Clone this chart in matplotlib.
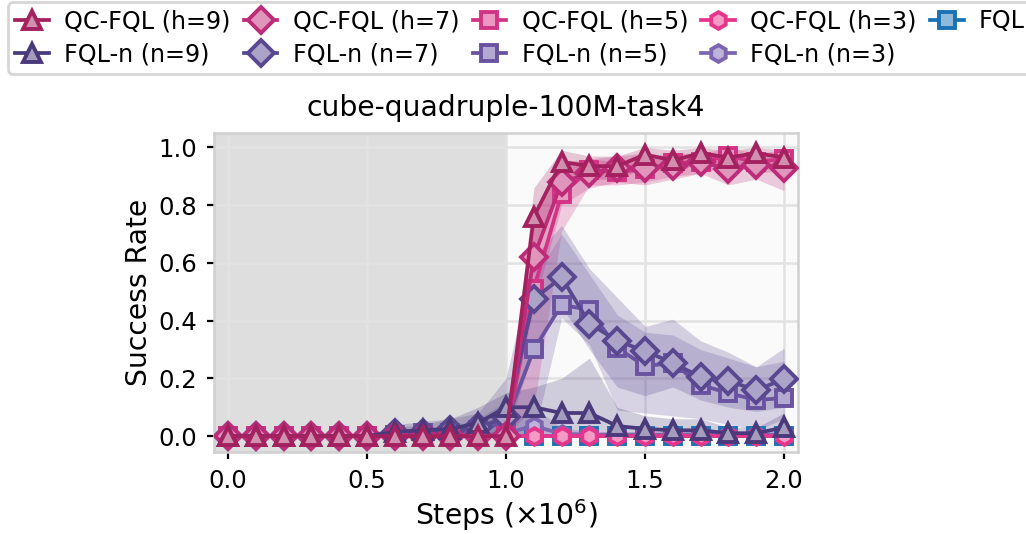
import matplotlib
matplotlib.use("Agg")
import matplotlib.pyplot as plt
from matplotlib.colors import to_rgb
from matplotlib.lines import Line2D

# Evaluation steps (x 1e6)
steps = [0.0, 0.1, 0.2, 0.3, 0.4, 0.5, 0.6, 0.7, 0.8, 0.9, 1.0,
         1.1, 1.2, 1.3, 1.4, 1.5, 1.6, 1.7, 1.8, 1.9, 2.0]

# QC-FQL with action chunking, horizon h
qc9 = [0, 0, 0, 0, 0, 0, 0, 0, 0, 0, 0,
       0.76, 0.95, 0.935, 0.935, 0.975, 0.955, 0.98, 0.965, 0.98, 0.965]
qc9_lo = [0, 0, 0, 0, 0, 0, 0, 0, 0, 0, 0,
          0.62, 0.90, 0.89, 0.89, 0.93, 0.91, 0.95, 0.93, 0.95, 0.93]
qc9_hi = [0, 0, 0, 0, 0, 0, 0, 0, 0, 0, 0,
          0.86, 0.99, 0.97, 0.97, 1.0, 0.99, 1.0, 0.99, 1.0, 0.99]

qc7 = [0, 0, 0, 0, 0, 0, 0, 0, 0, 0, 0,
       0.62, 0.88, 0.91, 0.93, 0.93, 0.935, 0.95, 0.925, 0.94, 0.93]
qc7_lo = [0, 0, 0, 0, 0, 0, 0, 0, 0, 0, 0,
          0.45, 0.80, 0.86, 0.88, 0.87, 0.89, 0.91, 0.87, 0.89, 0.85]
qc7_hi = [0, 0, 0, 0, 0, 0, 0, 0, 0, 0, 0,
          0.76, 0.95, 0.96, 0.97, 0.98, 0.97, 0.98, 0.97, 0.98, 0.98]

qc5 = [0, 0, 0, 0, 0, 0, 0, 0, 0, 0, 0,
       0.51, 0.84, 0.92, 0.915, 0.925, 0.945, 0.95, 0.97, 0.95, 0.96]
qc5_lo = [0, 0, 0, 0, 0, 0, 0, 0, 0, 0, 0,
          0.10, 0.71, 0.87, 0.87, 0.88, 0.90, 0.91, 0.94, 0.91, 0.92]
qc5_hi = [0, 0, 0, 0, 0, 0, 0, 0, 0, 0, 0,
          0.78, 0.93, 0.96, 0.95, 0.96, 0.98, 0.98, 1.0, 0.98, 0.99]

qc3 = [0] * 21
fql = [0] * 21

# FQL with n-step returns
n9 = [0, 0, 0, 0, 0, 0, 0.015, 0.02, 0.025, 0.045, 0.10,
      0.10, 0.08, 0.08, 0.035, 0.025, 0.02, 0.02, 0.01, 0.01, 0.03]
n9_lo = [0] * 21
n9_hi = [0, 0, 0, 0, 0, 0, 0.04, 0.05, 0.06, 0.10, 0.15,
         0.17, 0.20, 0.27, 0.10, 0.07, 0.06, 0.06, 0.03, 0.03, 0.08]

n7 = [0, 0, 0, 0, 0, 0, 0.01, 0.01, 0.02, 0.03, 0.065,
      0.475, 0.55, 0.39, 0.33, 0.295, 0.253, 0.205, 0.19, 0.16, 0.197]
n7_lo = [0, 0, 0, 0, 0, 0, 0, 0, 0, 0, 0.0,
         0.30, 0.45, 0.30, 0.17, 0.14, 0.17, 0.125, 0.10, 0.085, 0.10]
n7_hi = [0, 0, 0, 0, 0, 0, 0.03, 0.04, 0.06, 0.08, 0.20,
         0.62, 0.73, 0.58, 0.48, 0.38, 0.405, 0.33, 0.29, 0.24, 0.305]

n5 = [0, 0, 0, 0, 0, 0, 0.005, 0.01, 0.01, 0.02, 0.05,
      0.30, 0.455, 0.437, 0.305, 0.243, 0.253, 0.177, 0.149, 0.125, 0.132]
n5_lo = [0, 0, 0, 0, 0, 0, 0, 0, 0, 0, 0,
         0.0, 0.41, 0.316, 0.09, 0.08, 0.07, 0.06, 0.04, 0.02, 0.06]
n5_hi = [0, 0, 0, 0, 0, 0, 0.02, 0.03, 0.03, 0.06, 0.12,
         0.55, 0.70, 0.56, 0.42, 0.36, 0.35, 0.30, 0.27, 0.24, 0.26]

n3 = [0, 0, 0, 0, 0, 0, 0, 0, 0, 0, 0.01,
      0.035, 0.008, 0.005, 0.005, 0.005, 0.005, 0.005, 0.005, 0.005, 0.005]
n3_lo = [0] * 21
n3_hi = [0, 0, 0, 0, 0, 0, 0, 0, 0, 0, 0.03,
         0.10, 0.03, 0.015, 0.015, 0.015, 0.015, 0.015, 0.015, 0.015, 0.015]

# (label, mean, lo, hi, color, marker), in drawing order
runs = [
    ("FQL", fql, fql, fql, "#1a72b5", "s"),
    ("FQL-n (n=3)", n3, n3_lo, n3_hi, "#7c66b2", "h"),
    ("QC-FQL (h=3)", qc3, qc3, qc3, "#e6358b", "h"),
    ("FQL-n (n=5)", n5, n5_lo, n5_hi, "#6953a0", "s"),
    ("QC-FQL (h=5)", qc5, qc5_lo, qc5_hi, "#d23385", "s"),
    ("FQL-n (n=7)", n7, n7_lo, n7_hi, "#594790", "D"),
    ("QC-FQL (h=7)", qc7, qc7_lo, qc7_hi, "#be2c79", "D"),
    ("FQL-n (n=9)", n9, n9_lo, n9_hi, "#4a3a7b", "^"),
    ("QC-FQL (h=9)", qc9, qc9_lo, qc9_hi, "#a3215f", "^"),
]
legend_order = ["QC-FQL (h=9)", "FQL-n (n=9)", "QC-FQL (h=7)", "FQL-n (n=7)",
                "QC-FQL (h=5)", "FQL-n (n=5)", "QC-FQL (h=3)", "FQL-n (n=3)",
                "FQL"]
marker_size = {"^": 6.8, "D": 6.4, "s": 6.0, "h": 6.0}


def light(c, k=0.5):
    r, g, b = to_rgb(c)
    return (r + (1 - r) * k, g + (1 - g) * k, b + (1 - b) * k)


fig = plt.figure(figsize=(5.13, 2.67), dpi=200)
ax = fig.add_axes([0.2086, 0.1536, 0.5692, 0.5974])
ax.set_facecolor("#fafafa")

ax.axvspan(-0.05, 1.0, color="#b4b4b4", alpha=0.4, lw=0, zorder=0.5)

handles = {}
for i, (label, y, lo, hi, c, m) in enumerate(runs):
    ax.fill_between(steps, lo, hi, color=c, alpha=0.24, lw=0, zorder=1 + i * 0.01)
    style = dict(color=c, marker=m, ms=marker_size[m], mfc=light(c), mec=c,
                 mew=1.4, lw=1.35)
    ax.plot(steps, y, zorder=3 + i * 0.1, **style)
    handles[label] = Line2D([], [], **style)

ax.set_xlim(-0.05, 2.05)
ax.set_ylim(-0.055, 1.05)
ax.set_xticks([0.0, 0.5, 1.0, 1.5, 2.0])
ax.set_yticks([0.0, 0.2, 0.4, 0.6, 0.8, 1.0])
ax.grid(True, color="#e2e2e2", lw=0.9, zorder=0)
ax.set_axisbelow(True)
for s in ax.spines.values():
    s.set_color("#d0d0d0")
    s.set_linewidth(0.9)
ax.tick_params(labelsize=8.8, length=2.5, width=0.8, pad=3.5)

ax.set_title("cube-quadruple-100M-task4", fontsize=10.2)
ax.set_xlabel(r"Steps ($\times 10^6$)", fontsize=10.2, labelpad=1.5)
ax.set_ylabel("Success Rate", fontsize=10.2, labelpad=2)

fig.legend([handles[k] for k in legend_order], legend_order,
           loc="upper left", bbox_to_anchor=(0.008, 0.996), borderaxespad=0,
           ncol=5, fontsize=8.6, handlelength=1.4, handletextpad=0.65,
           columnspacing=0.55, labelspacing=0.4, borderpad=0.3,
           frameon=True, edgecolor="#cccccc", fancybox=True)

fig.savefig("out.png", dpi=200)
